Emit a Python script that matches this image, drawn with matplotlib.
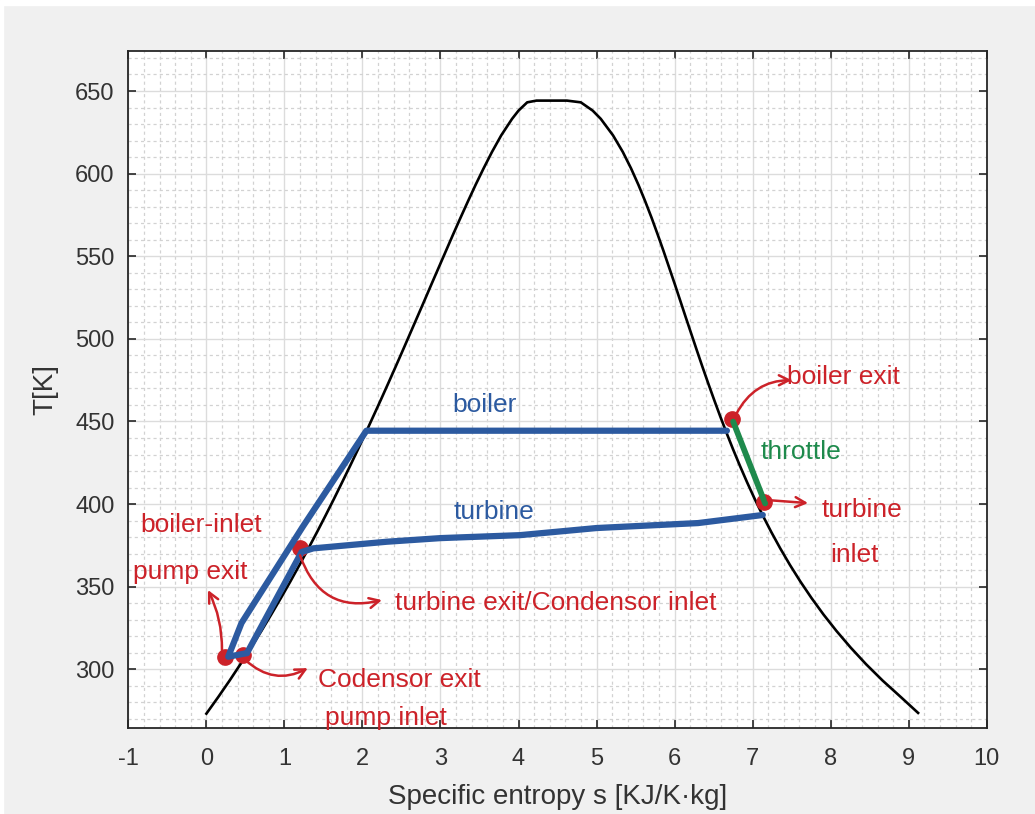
import matplotlib
matplotlib.use("Agg")
import matplotlib.pyplot as plt
from matplotlib.patches import Rectangle
from matplotlib.ticker import MultipleLocator

plt.rcParams['font.family'] = ['Liberation Sans', 'DejaVu Sans']
plt.rcParams['axes.unicode_minus'] = False

# ---- saturation dome (s [kJ/kgK], T [K]) ----
dome_s = [0.000, 0.151, 0.297, 0.437, 0.572, 0.704, 0.831, 0.955, 1.076, 1.193,
          1.307, 1.419, 1.528, 1.635, 1.739, 1.842, 1.943, 2.042, 2.139, 2.236,
          2.331, 2.425, 2.518, 2.610, 2.702, 2.794, 2.885, 2.977, 3.069, 3.161,
          3.255, 3.351, 3.449, 3.552, 3.660, 3.778, 3.917, 4.000, 4.111, 4.230,
          4.620, 4.798, 4.950, 5.054, 5.211, 5.336, 5.442, 5.537, 5.624, 5.706,
          5.783, 5.858, 5.930, 6.002, 6.072, 6.142, 6.213, 6.284, 6.356, 6.430,
          6.506, 6.584, 6.665, 6.749, 6.837, 6.929, 7.026, 7.129, 7.238, 7.354,
          7.478, 7.611, 7.754, 7.908, 8.075, 8.256, 8.452, 8.666, 8.900, 9.120]
dome_T = [273.16, 283.15, 293.15, 303.15, 313.15, 323.15, 333.15, 343.15, 353.15, 363.15,
          373.15, 383.15, 393.15, 403.15, 413.15, 423.15, 433.15, 443.15, 453.15, 463.15,
          473.15, 483.15, 493.15, 503.15, 513.15, 523.15, 533.15, 543.15, 553.15, 563.15,
          573.15, 583.15, 593.15, 603.15, 613.15, 623.15, 633.15, 638.15, 643.15, 644.20,
          644.20, 643.15, 638.15, 633.15, 623.15, 613.15, 603.15, 593.15, 583.15, 573.15,
          563.15, 553.15, 543.15, 533.15, 523.15, 513.15, 503.15, 493.15, 483.15, 473.15,
          463.15, 453.15, 443.15, 433.15, 423.15, 413.15, 403.15, 393.15, 383.15, 373.15,
          363.15, 353.15, 343.15, 333.15, 323.15, 313.15, 303.15, 293.15, 283.15, 273.60]

# ---- cycle paths ----
pump_boiler_s = [0.52, 0.28, 0.45, 1.235, 2.05, 6.67]
pump_boiler_T = [309.8, 307.6, 328, 386.3, 444.4, 444.4]
turbine_s = [7.13, 6.30, 5.00, 4.02, 3.00, 2.31, 1.37, 1.22, 0.52]
turbine_T = [393.4, 388.5, 385.5, 381.2, 379.4, 377.2, 373.2, 371.0, 309.8]
throttle_s = [6.75, 7.16]
throttle_T = [449.9, 400.4]

# ---- state points (red dots) ----
pts_s = [0.24, 0.47, 1.20, 6.73, 7.14]
pts_T = [307.6, 308.6, 373.2, 451.5, 401.2]

# ---- hand-written labels ----
labels = ["boiler", "turbine", "throttle", "boiler exit", "turbine", "inlet",
          "turbine exit/Condensor inlet", "boiler-inlet", "pump exit",
          "Codensor exit", "pump inlet"]
label_s = [3.57, 3.69, 7.62, 7.44, 7.89, 7.99, 2.42, -0.85, -0.94, 1.43, 1.52]
label_T = [460.0, 395.2, 431.5, 476.9, 396.4, 369.0, 340.0, 387.3, 359.0, 293.5, 270.5]
label_kind = ["b", "b", "g", "r", "r", "r", "r", "r", "r", "r", "r"]
label_ha = ["center", "center", "center", "left", "left", "left", "left", "left", "left", "left", "left"]

# ---- arrows (start -> end) ----
arr_s0 = [6.79, 7.195, 1.20, 0.20, 0.50]
arr_T0 = [454.5, 402.4, 369.0, 311.6, 305.6]
arr_s1 = [7.50, 7.71, 2.25, 0.02, 1.30]
arr_T1 = [475.0, 400.6, 341.9, 348.0, 300.7]
arr_rad = [-0.3, 0.0, 0.45, 0.12, 0.35]

BLUE = '#2c5aa0'
RED = '#cc2229'
GREEN = '#1e8a4c'
colors = {"b": BLUE, "r": RED, "g": GREEN}

fig = plt.figure(figsize=(10.35, 8.14), dpi=100, facecolor='#f0f0f0')
fig.add_artist(Rectangle((0, 1 - 5 / 814), 1, 5 / 814, transform=fig.transFigure,
                         color='white', zorder=0))
fig.add_artist(Rectangle((0, 0), 3 / 1035, 1, transform=fig.transFigure,
                         color='white', zorder=0))

ax = fig.add_axes([0.124, 0.1053, 0.8294, 0.832])
ax.set_facecolor('white')

ax.plot(dome_s, dome_T, color='black', lw=1.9, zorder=3,
        solid_joinstyle='round')

ax.plot(pts_s, pts_T, 'o', color=RED, ms=11, zorder=4)
ax.plot(pump_boiler_s, pump_boiler_T, color=BLUE, lw=4.5, solid_capstyle='round',
        solid_joinstyle='round', zorder=5)
ax.plot(turbine_s, turbine_T, color=BLUE, lw=4.5, solid_capstyle='round',
        solid_joinstyle='round', zorder=5)
ax.plot(throttle_s, throttle_T, color=GREEN, lw=4.2, solid_capstyle='round', zorder=5)

for txt, s, T, k, ha in zip(labels, label_s, label_T, label_kind, label_ha):
    ax.text(s, T, txt, color=colors[k], fontsize=19, ha=ha, va='center',
            zorder=6, clip_on=False)

for s0, T0, s1, T1, r in zip(arr_s0, arr_T0, arr_s1, arr_T1, arr_rad):
    ax.annotate('', xy=(s1, T1), xytext=(s0, T0), zorder=6,
                arrowprops=dict(arrowstyle='->', color=RED, lw=1.8,
                                mutation_scale=18, shrinkA=0, shrinkB=0,
                                connectionstyle=f'arc3,rad={r}'))

ax.set_xlim(-1, 10)
ax.set_ylim(264.3, 674.2)
ax.xaxis.set_major_locator(MultipleLocator(1))
ax.xaxis.set_minor_locator(MultipleLocator(0.2))
ax.yaxis.set_major_locator(MultipleLocator(50))
ax.yaxis.set_minor_locator(MultipleLocator(10))

ax.grid(which='major', color='#dcdcdc', lw=1.0, zorder=0)
ax.grid(which='minor', color='#d2d2d2', lw=0.9, linestyle=(0, (2.5, 2.5)), zorder=0)
ax.set_axisbelow(True)

ax.tick_params(which='major', direction='in', length=6, width=1.2, color='#262626',
               top=True, right=True, labelsize=17, labelcolor='#333333')
ax.tick_params(axis='x', which='major', pad=14)
ax.tick_params(axis='y', which='major', pad=10)
ax.tick_params(which='minor', length=0)
for sp in ax.spines.values():
    sp.set_color('#262626')
    sp.set_linewidth(1.3)

ax.set_xlabel('Specific entropy s [KJ/K\u00b7kg]', fontsize=20, color='#333333', va='center')
ax.xaxis.set_label_coords(0.5, -0.1014)
ax.set_ylabel('T[K]', fontsize=20, color='#333333', va='center')
ax.yaxis.set_label_coords(-0.097, 0.5)

fig.savefig('out.png', dpi=100, facecolor=fig.get_facecolor())
